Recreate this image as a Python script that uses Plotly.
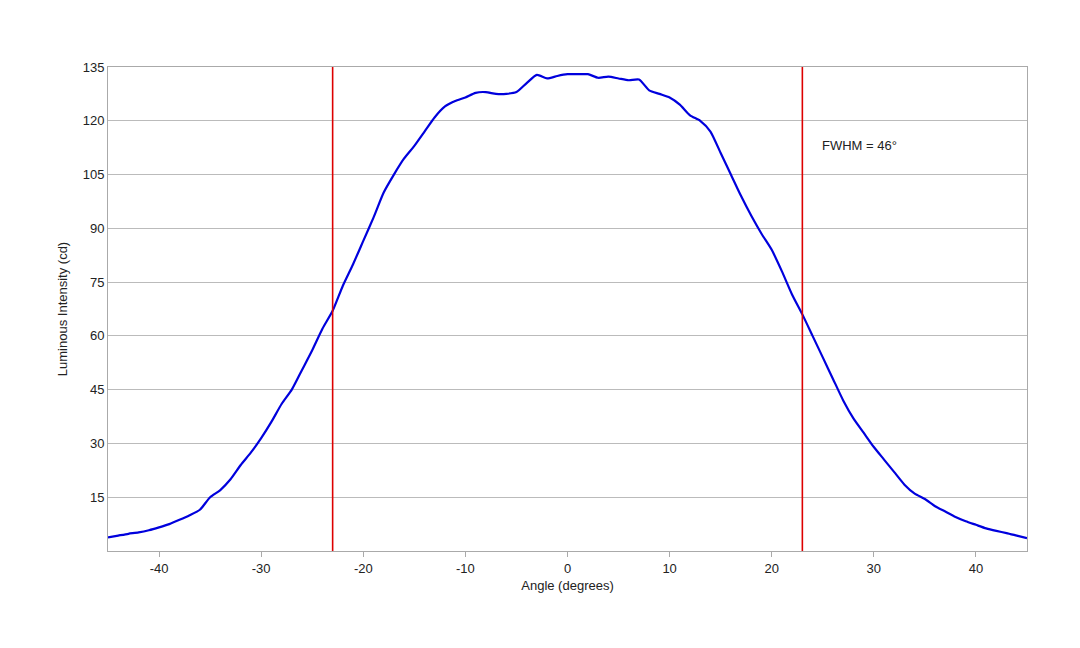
import plotly.graph_objects as go

angle = list(range(-45, 46))
intensity = [3.8, 4.3, 4.8, 5.2, 5.8, 6.6, 7.5, 8.7, 10.0, 11.5, 15.0, 17.0, 20.0, 24.0, 27.5,
             31.5, 36.0, 41.0, 45.0, 50.5, 56.0, 62.0, 67.0, 74.0, 80.0, 86.5, 93.0, 100.0, 105.0,
             109.5, 113.0, 117.0, 121.0, 124.0, 125.5, 126.5, 127.8, 128.0, 127.5, 127.5, 128.0,
             130.5, 132.8, 131.8, 132.5, 133.0, 133.0, 133.0, 132.0, 132.3, 131.8, 131.3, 131.5,
             128.5, 127.5, 126.5, 124.5, 121.5, 120.0, 117.0, 111.0, 105.0, 99.0, 93.5, 88.5,
             84.0, 78.0, 71.5, 66.0, 60.0, 54.0, 48.0, 42.0, 37.0, 33.0, 29.0, 25.5, 22.0, 18.5,
             16.0, 14.5, 12.5, 11.0, 9.5, 8.3, 7.3, 6.3, 5.6, 5.0, 4.3, 3.6]
fwhm_left, fwhm_right = -23, 23
label = "FWHM = 46°"
xticks = [-40, -30, -20, -10, 0, 10, 20, 30, 40]

fig = go.Figure()
fig.add_trace(go.Scatter(x=angle, y=intensity, mode="lines",
                         line=dict(color="#0000dd", width=2.2, shape="spline", smoothing=0.6),
                         showlegend=False))
for xv in (fwhm_left, fwhm_right):
    fig.add_vline(x=xv, line=dict(color="#dd0000", width=1.6))
fig.add_annotation(x=24.7, y=113, text=label, showarrow=False, xanchor="left",
                   font=dict(size=13, color="#222"))

fig.update_layout(
    width=1080, height=648,
    margin=dict(l=100, r=61, t=59, b=105, autoexpand=False),
    paper_bgcolor="white", plot_bgcolor="white",
    font=dict(family="Liberation Sans, Arial", size=13, color="#222"),
    xaxis=dict(range=[-45, 45], tickvals=xticks, ticktext=[str(v) for v in xticks],
               showgrid=False, ticks="outside", ticklen=5, tickcolor="#aaa",
               showline=True, linecolor="#aaa", mirror=True, zeroline=False,
               title=dict(text="Angle (degrees)", standoff=6, font=dict(size=13))),
    yaxis=dict(range=[0, 135], tickvals=list(range(15, 136, 15)),
               gridcolor="#bbb", showline=True, linecolor="#aaa", mirror=True,
               zeroline=False, automargin=False,
               title=dict(text="Luminous Intensity (cd)", standoff=12, font=dict(size=13))),
)
fig.write_html("out.html")
